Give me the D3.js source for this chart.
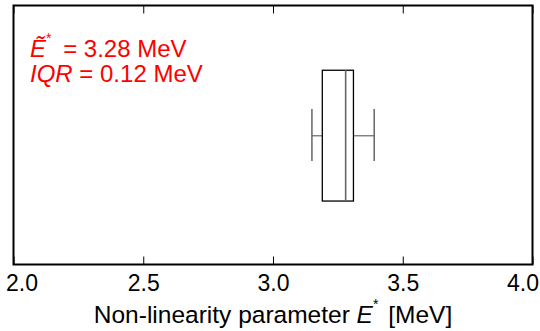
<!DOCTYPE html>
<html>
<head>
<meta charset="utf-8">
<script src="https://cdn.jsdelivr.net/npm/d3@7"></script>
<style>
  html, body { margin: 0; padding: 0; background: #fff; }
  svg { display: block; }
  text { font-family: "Liberation Sans", Arial, Helvetica, sans-serif; }
</style>
</head>
<body>
<svg id="chart" width="540" height="331"></svg>
<script>
// Box-plot summary of the non-linearity parameter E* (MeV)
const whiskerLow = 3.15;
const quartile1 = 3.19;
const median = 3.28;
const quartile3 = 3.31;
const whiskerHigh = 3.39;
const iqr = 0.12;

const xDomain = [2.0, 4.0];
const tickValues = [2.0, 2.5, 3.0, 3.5, 4.0];

const W = 540, H = 331;
const margin = { left: 13.5, right: 7.5, top: 5.5, bottom: 66.5 };
const plotW = W - margin.left - margin.right;
const plotH = H - margin.top - margin.bottom;

const svg = d3.select("#chart");
const g = svg.append("g").attr("transform", `translate(${margin.left},${margin.top})`);

const x = d3.scaleLinear().domain(xDomain).range([0, plotW]);
// vertical band for the single box
const y = d3.scaleLinear().domain([0, 1]).range([plotH, 0]);
const boxTop = 0.75, boxBottom = 0.245, capTop = 0.6, capBottom = 0.4, mid = 0.497;

// bottom axis with inward ticks
const xAxis = d3.axisBottom(x).tickValues(tickValues).tickSizeInner(-8).tickSizeOuter(0)
  .tickFormat(d3.format(".1f")).tickPadding(10);
const ax = g.append("g").attr("transform", `translate(0,${plotH})`).call(xAxis);
ax.select(".domain").remove();
ax.selectAll(".tick line").attr("stroke", "#000").attr("stroke-width", 1);
ax.selectAll(".tick text").attr("font-size", 23).attr("fill", "#000")
  .attr("font-family", "Liberation Sans, Arial, sans-serif")
  .attr("dy", null).attr("y", 0).attr("transform", "translate(0,26)");
// end labels kept inside the canvas
ax.selectAll(".tick text").filter(d => d === xDomain[0]).attr("text-anchor", "start").attr("dx", -8);
ax.selectAll(".tick text").filter(d => d === xDomain[1]).attr("text-anchor", "end").attr("dx", 6);

// top axis ticks (inward, no labels)
const topAxis = d3.axisTop(x).tickValues(tickValues).tickSizeInner(-8).tickSizeOuter(0).tickFormat("");
const tx = g.append("g").call(topAxis);
tx.select(".domain").remove();
tx.selectAll(".tick line").attr("stroke", "#000").attr("stroke-width", 1);

// frame
g.append("rect").attr("x", 0).attr("y", 0).attr("width", plotW).attr("height", plotH)
  .attr("fill", "none").attr("stroke", "#000").attr("stroke-width", 2);

// whiskers
const gray = "#666";
g.append("line").attr("x1", x(whiskerLow)).attr("x2", x(quartile1))
  .attr("y1", y(mid)).attr("y2", y(mid)).attr("stroke", gray).attr("stroke-width", 1.2);
g.append("line").attr("x1", x(quartile3)).attr("x2", x(whiskerHigh))
  .attr("y1", y(mid)).attr("y2", y(mid)).attr("stroke", gray).attr("stroke-width", 1.2);
[whiskerLow, whiskerHigh].forEach(v => {
  g.append("line").attr("x1", x(v)).attr("x2", x(v))
    .attr("y1", y(capTop)).attr("y2", y(capBottom)).attr("stroke", gray).attr("stroke-width", 1.5);
});

// box
g.append("rect").attr("x", x(quartile1)).attr("y", y(boxTop))
  .attr("width", x(quartile3) - x(quartile1)).attr("height", y(boxBottom) - y(boxTop))
  .attr("fill", "none").attr("stroke", "#000").attr("stroke-width", 1.3);
// median
g.append("line").attr("x1", x(median)).attr("x2", x(median))
  .attr("y1", y(boxTop)).attr("y2", y(boxBottom)).attr("stroke", gray).attr("stroke-width", 1.6);

// annotation
const red = "#ff0000";
const t1 = svg.append("text").attr("x", 30).attr("y", 57).attr("font-size", 24).attr("fill", red);
t1.append("tspan").attr("font-style", "italic").text("\u1EBC");
t1.append("tspan").attr("font-size", 14).attr("dy", -14).text("*");
t1.append("tspan").attr("dy", 14).attr("dx", 5).text(` = ${median.toFixed(2)} MeV`);

const t2 = svg.append("text").attr("x", 30).attr("y", 82).attr("font-size", 24).attr("fill", red);
t2.append("tspan").attr("font-style", "italic").text("IQR");
t2.append("tspan").text(` = ${iqr.toFixed(2)} MeV`);

// axis title
const title = svg.append("text").attr("x", margin.left + plotW / 2).attr("y", 323)
  .attr("text-anchor", "middle").attr("font-size", 24.5).attr("fill", "#000");
title.append("tspan").text("Non-linearity parameter ");
title.append("tspan").attr("font-style", "italic").text("E");
title.append("tspan").attr("font-size", 14).attr("dy", -14).text("*");
title.append("tspan").attr("dy", 14).attr("dx", 3).text(" [MeV]");
</script>
</body>
</html>
